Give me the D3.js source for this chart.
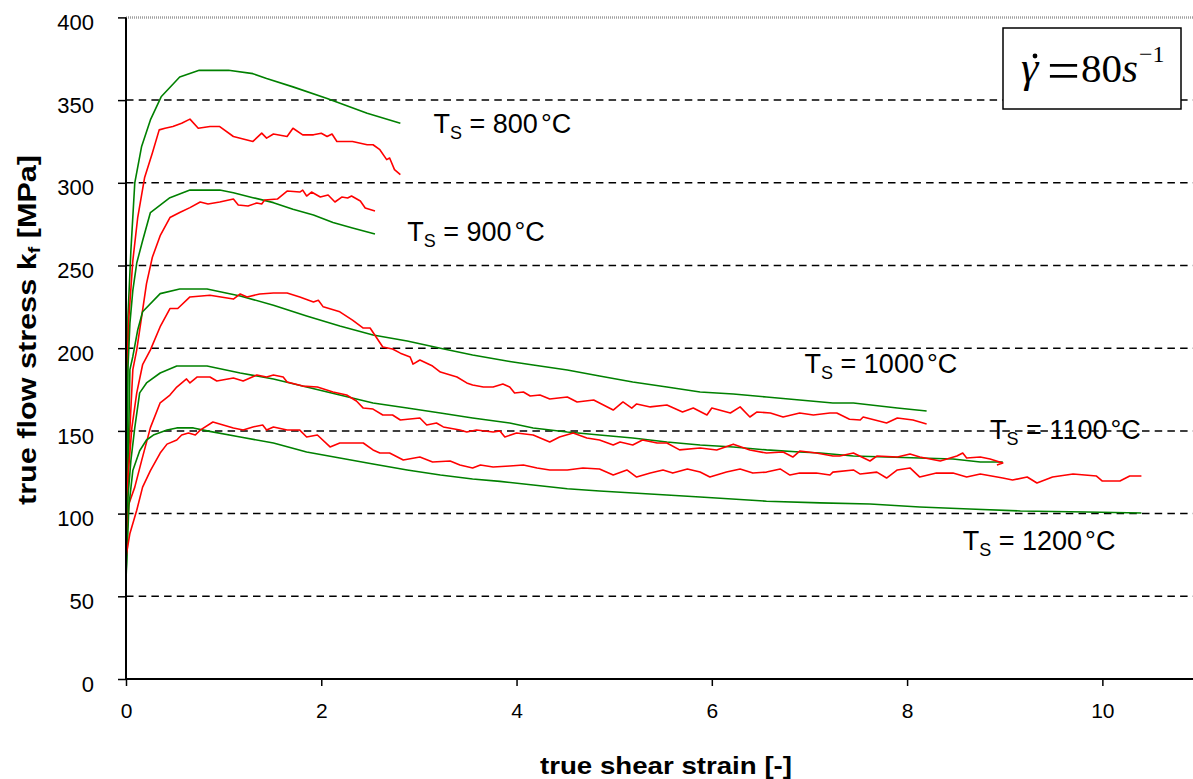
<!DOCTYPE html>
<html><head><meta charset="utf-8">
<script src="https://cdn.jsdelivr.net/npm/d3@7"></script>
<style>body{margin:0;background:#fff}svg{display:block}</style>
</head><body>
<svg id="chart" width="1193" height="779"></svg>
<script>
// ---------- data (strain [-], stress [MPa]) ----------
const xTicks = [0, 2, 4, 6, 8, 10];
const yTicks = [0, 50, 100, 150, 200, 250, 300, 350, 400];
const gridValues = [50, 100, 150, 200, 250, 300, 350];

const green800 = [[0,60],[0.02,219],[0.05,259],[0.09,300],[0.16,322],[0.25,338],[0.36,352],[0.55,364],[0.75,368],[1.05,368],[1.3,366],[1.44,363],[1.71,358],[2.06,351],[2.47,342],[2.81,336]];
const red800 = [[0,75],[0.01,188],[0.03,219],[0.07,253],[0.12,279],[0.19,303],[0.27,318],[0.34,332],[0.40,333],[0.48,334],[0.57,336],[0.655,338.5],[0.74,333],[0.86,334],[0.96,334],[1.10,328],[1.30,325],[1.39,330],[1.44,327],[1.51,329.5],[1.65,328],[1.71,333],[1.81,329],[1.92,329],[2.0,330],[2.06,328],[2.11,329.5],[2.16,325],[2.32,325],[2.47,323],[2.53,323],[2.60,320],[2.67,314],[2.70,315],[2.75,308],[2.81,305]];
const green900 = [[0,60],[0.02,188],[0.04,215],[0.07,235],[0.11,251.5],[0.17,265],[0.25,282],[0.45,291],[0.655,295.6],[0.96,295.6],[1.10,294],[1.30,291],[1.51,288],[1.71,284],[1.92,280.5],[2.12,276],[2.32,272.7],[2.55,269]];
const red900 = [[0,75],[0.03,140],[0.07,187],[0.11,199],[0.16,219],[0.21,239],[0.27,255],[0.35,268],[0.45,279],[0.55,282],[0.655,285],[0.76,288.4],[0.84,287.2],[0.96,288.4],[1.10,290.2],[1.15,286.6],[1.25,286],[1.34,287.8],[1.39,287.2],[1.42,289.6],[1.55,290.2],[1.65,295],[1.78,294.4],[1.81,295.6],[1.85,292],[1.90,294.4],[1.99,291.4],[2.07,292.6],[2.14,288.4],[2.21,291.4],[2.27,290.8],[2.31,292],[2.40,289],[2.45,284.8],[2.55,283]];
const green1000 = [[0,60],[0.04,187],[0.07,195],[0.12,211],[0.17,222],[0.35,233],[0.55,235.8],[0.83,235.8],[1.17,231.6],[1.51,226],[1.85,219.5],[2.19,213.4],[2.53,208],[2.88,204.4],[3.22,200],[3.55,195.9],[3.93,192],[4.17,189.8],[4.52,186.8],[4.85,183.2],[5.19,179.6],[5.54,176.5],[5.88,173.5],[6.22,172.3],[6.56,170.5],[6.90,168.7],[7.24,166.9],[7.45,166.9],[7.9,163.8],[8.2,162]];
const red1000 = [[0,75],[0.01,106],[0.02,122],[0.06,152],[0.11,173],[0.17,190],[0.25,199],[0.35,213],[0.45,224],[0.53,224],[0.655,231],[0.86,232],[1.1,229.7],[1.17,232.8],[1.24,231],[1.37,232.8],[1.51,233.4],[1.65,233.4],[1.78,231],[1.92,228],[1.97,229],[2.02,225],[2.19,222],[2.32,217],[2.43,212.2],[2.50,212.2],[2.57,206],[2.63,200.7],[2.73,199.5],[2.81,197],[2.91,194.7],[2.94,190.4],[3.01,192.9],[3.14,189.2],[3.22,185.6],[3.39,182.6],[3.49,179],[3.55,177.7],[3.66,176.5],[3.76,176.5],[3.86,178.3],[3.93,176.5],[3.98,172.9],[4.07,173.5],[4.14,171.1],[4.24,171.7],[4.34,169.3],[4.52,170.5],[4.62,167.5],[4.79,168.7],[4.85,166.9],[4.99,162.6],[5.09,167.5],[5.18,163.8],[5.23,166.3],[5.37,164.5],[5.54,165.7],[5.70,161.4],[5.81,163.8],[5.95,159.6],[6.0,163.8],[6.19,160.8],[6.29,164.5],[6.39,158.4],[6.46,161.4],[6.6,160.8],[6.73,158.4],[6.90,160.8],[7.04,159.6],[7.21,160.8],[7.28,160.8],[7.41,157],[7.52,156.6],[7.55,158.4],[7.79,154.8],[7.9,157.8],[8.06,156.6],[8.2,154.2]];
const green1100 = [[0,60],[0.02,110],[0.05,132],[0.09,152],[0.14,173],[0.21,179],[0.35,185],[0.52,189.2],[0.83,189.2],[1.17,185],[1.51,181.4],[1.85,176.5],[2.19,171.7],[2.53,166.9],[2.88,163.8],[3.22,160.8],[3.55,157.8],[3.93,154.8],[4.17,151.8],[4.52,149.3],[4.85,147.5],[5.19,145.7],[5.54,143.3],[5.88,141.5],[6.22,140.3],[6.56,138.5],[6.90,137.2],[7.11,136.6],[7.45,134.8],[7.79,134.2],[8.13,133.6],[8.47,133],[8.75,131.2],[8.98,131.2]];
const red1100 = [[0,80],[0.03,106],[0.09,116],[0.16,132],[0.25,152],[0.35,167],[0.45,171.7],[0.52,176.5],[0.62,181.4],[0.655,179],[0.73,182.6],[0.86,182.6],[0.93,180.2],[1.10,182],[1.20,180.2],[1.34,183.8],[1.44,182.6],[1.51,183.8],[1.61,182.6],[1.65,179.6],[1.81,177.1],[1.96,176.5],[2.12,173.5],[2.26,171.7],[2.36,168.1],[2.43,163.8],[2.53,163.2],[2.63,159.6],[2.73,159.6],[2.81,156.6],[3.01,157.8],[3.08,153.6],[3.18,154.8],[3.25,152.4],[3.42,150.5],[3.49,149.3],[3.59,150.5],[3.76,149.3],[3.83,150],[3.88,146.3],[4.0,148.7],[4.17,147.5],[4.34,143.3],[4.44,146.3],[4.58,148.7],[4.72,145.7],[4.85,144.5],[4.99,141.5],[5.06,143.3],[5.19,141.5],[5.29,144.5],[5.44,142.7],[5.54,142.7],[5.67,138.5],[5.88,139.7],[6.05,138.5],[6.22,142],[6.39,138.5],[6.56,136.6],[6.73,137.2],[6.83,134.2],[6.9,137.8],[7.07,136.6],[7.24,134.8],[7.31,134.8],[7.45,136.6],[7.62,131.8],[7.69,134.8],[7.9,134.2],[8.03,136],[8.13,134.2],[8.34,131.8],[8.51,134.8],[8.57,136.6],[8.61,133.6],[8.75,134.2],[8.85,133],[8.98,130.6],[8.92,129.4]];
const green1200 = [[0,60],[0.03,105],[0.07,126],[0.14,138],[0.21,144.5],[0.28,147.5],[0.42,150.5],[0.52,151.8],[0.69,151.8],[0.83,150],[1.17,146.3],[1.51,142.7],[1.85,137.2],[2.19,133.6],[2.53,130],[2.88,126.4],[3.22,123.3],[3.55,120.9],[3.83,119.5],[4.17,117.3],[4.52,115],[4.85,113.7],[5.54,111.2],[5.88,110],[6.56,107.5],[7.11,106.5],[7.62,105.8],[8.13,104],[8.64,102.8],[9.16,101.6],[9.84,101],[10.4,100.4]];
const red1200 = [[0,74],[0.04,88],[0.11,102],[0.17,116],[0.25,126],[0.35,136.6],[0.42,142],[0.52,144.5],[0.57,147.5],[0.64,148.7],[0.71,147.5],[0.76,150.5],[0.89,155.4],[0.96,154.2],[1.10,151.8],[1.20,150.5],[1.30,152.4],[1.40,153.6],[1.44,150.5],[1.51,152.4],[1.65,150.5],[1.78,150.5],[1.85,146.3],[1.96,147.5],[2.09,140.3],[2.19,142.7],[2.32,142.7],[2.43,142.7],[2.53,138.5],[2.60,136.6],[2.70,136.6],[2.84,132.4],[3.01,134.2],[3.14,131.2],[3.32,131.8],[3.42,129.4],[3.55,127.6],[3.63,129.4],[3.76,128.2],[3.93,128.8],[4.07,129.4],[4.21,127.6],[4.34,126.4],[4.52,126.4],[4.68,127.6],[4.85,127],[4.99,123.3],[5.13,126.4],[5.23,122.1],[5.37,124.5],[5.50,126.4],[5.60,124.5],[5.75,127],[5.88,125.1],[5.98,122.1],[6.15,125.1],[6.29,127],[6.42,124.5],[6.56,125.1],[6.70,127],[6.80,123.3],[6.90,124.5],[7.07,124.5],[7.21,123.3],[7.24,125.1],[7.45,126.4],[7.52,123.9],[7.69,125.1],[7.79,121.5],[7.9,126.4],[8.03,127.6],[8.13,122.1],[8.3,124.5],[8.47,124.5],[8.61,122.1],[8.75,123.9],[8.98,121.5],[9.08,120.3],[9.23,122.1],[9.33,118.5],[9.49,122.1],[9.70,123.9],[9.94,122.7],[10.0,119.7],[10.18,119.7],[10.28,122.7],[10.4,122.7]];

const labelTemps = ["800", "900", "1000", "1100", "1200"];
const labelAnchors = [[3.15, 330], [2.88, 265], [6.95, 185], [8.85, 145], [8.57, 78]]; // [strain, stress] of label baseline start

// ---------- drawing ----------
const svg = d3.select("#chart");
const x = d3.scaleLinear().domain([0, 11]).range([126, 1200]);
const y = d3.scaleLinear().domain([0, 400]).range([679, 17.4]);
const sans = "Arial, 'Liberation Sans', sans-serif";

// gridlines
svg.append("g").selectAll("line").data(gridValues).join("line")
  .attr("x1", x(0)).attr("x2", 1193).attr("y1", d => y(d)).attr("y2", d => y(d))
  .attr("stroke", "#000").attr("stroke-width", 1.5).attr("stroke-dasharray", "7.5,5.2");
// top border (plot area)
svg.append("line").attr("x1", x(0)).attr("x2", 1193).attr("y1", y(400)).attr("y2", y(400))
  .attr("stroke", "#a0a0a0").attr("stroke-width", 2.5).attr("stroke-dasharray", "1,1");

// curves
const line = d3.line().x(d => x(d[0])).y(d => y(d[1]));
const series = [
  [green800, "#008000"], [red800, "#ff0000"],
  [green900, "#008000"], [red900, "#ff0000"],
  [green1000, "#008000"], [red1000, "#ff0000"],
  [green1100, "#008000"], [red1100, "#ff0000"],
  [green1200, "#008000"], [red1200, "#ff0000"]
];
svg.append("g").selectAll("path").data(series).join("path")
  .attr("d", d => line(d[0])).attr("fill", "none")
  .attr("stroke", d => d[1]).attr("stroke-width", 1.6).attr("stroke-linejoin", "round");

// axes
const yAxis = d3.axisLeft(y).tickValues(yTicks).tickSize(8).tickPadding(24).tickFormat(d3.format("d"));
const gy = svg.append("g").attr("transform", `translate(${x(0)},0)`).call(yAxis);
gy.select(".domain").attr("stroke", "#000").attr("stroke-width", 2).attr("d", `M0,${y(400)}V${y(0)}`);
gy.selectAll(".tick line").attr("stroke", "#000").attr("stroke-width", 1.5);
gy.selectAll(".tick text").attr("font-family", sans).attr("font-size", 22).attr("fill", "#000").attr("dy", "0.55em");

const xAxis = d3.axisBottom(x).tickValues(xTicks).tickSize(7).tickPadding(17).tickFormat(d3.format("d"));
const gx = svg.append("g").attr("transform", `translate(0,${y(0)})`).call(xAxis);
gx.select(".domain").attr("stroke", "#000").attr("stroke-width", 2).attr("d", `M${x(0)},0H1193`);
gx.selectAll(".tick line").attr("stroke", "#000").attr("stroke-width", 1.5);
gx.selectAll(".tick text").attr("font-family", sans).attr("font-size", 21).attr("fill", "#000");

// axis titles
svg.append("text").attr("x", 540).attr("y", 774)
  .attr("font-family", sans).attr("font-weight", "bold").attr("font-size", 24)
  .attr("textLength", 252).attr("lengthAdjust", "spacingAndGlyphs")
  .text("true shear strain  [-]");
const yt = svg.append("text").attr("transform", "translate(36,505) rotate(-90)")
  .attr("font-family", sans).attr("font-weight", "bold").attr("font-size", 25)
  .attr("textLength", 350).attr("lengthAdjust", "spacingAndGlyphs");
yt.append("tspan").text("true flow stress k");
yt.append("tspan").attr("font-size", 16).attr("dy", 4).text("f");
yt.append("tspan").attr("dy", -4).text(" [MPa]");

// temperature labels
labelTemps.forEach((t, i) => {
  const [sx, sy] = labelAnchors[i];
  const tx = svg.append("text").attr("x", x(sx)).attr("y", y(sy))
    .attr("font-family", sans).attr("font-size", 27).attr("fill", "#000");
  tx.append("tspan").text("T");
  tx.append("tspan").attr("font-size", 18).attr("dy", 6).text("S");
  tx.append("tspan").attr("dy", -6).text(" = " + t);
  tx.append("tspan").attr("dx", 3).text("°C");
});

// strain-rate box
svg.append("rect").attr("x", 1003).attr("y", 28).attr("width", 178).attr("height", 81)
  .attr("fill", "#fff").attr("stroke", "#000").attr("stroke-width", 1.5);
const serif = "'Times New Roman', 'Liberation Serif', serif";
svg.append("text").attr("x", 1021).attr("y", 82).attr("font-family", serif).attr("font-size", 44)
  .attr("font-style", "italic").text("γ");
svg.append("circle").attr("cx", 1035).attr("cy", 56).attr("r", 2.4).attr("fill", "#000");
svg.append("text").attr("x", 1047).attr("y", 89).attr("font-family", serif).attr("font-size", 54)
  .attr("textLength", 33).attr("lengthAdjust", "spacingAndGlyphs").text("=");
const eq = svg.append("text").attr("x", 1081).attr("y", 82).attr("font-family", serif).attr("font-size", 41).attr("fill", "#000");
eq.append("tspan").text("80");
eq.append("tspan").attr("font-style", "italic").text("s");
eq.append("tspan").attr("font-size", 24).attr("dy", -20).attr("dx", 1).text("−1");
</script>
</body></html>
